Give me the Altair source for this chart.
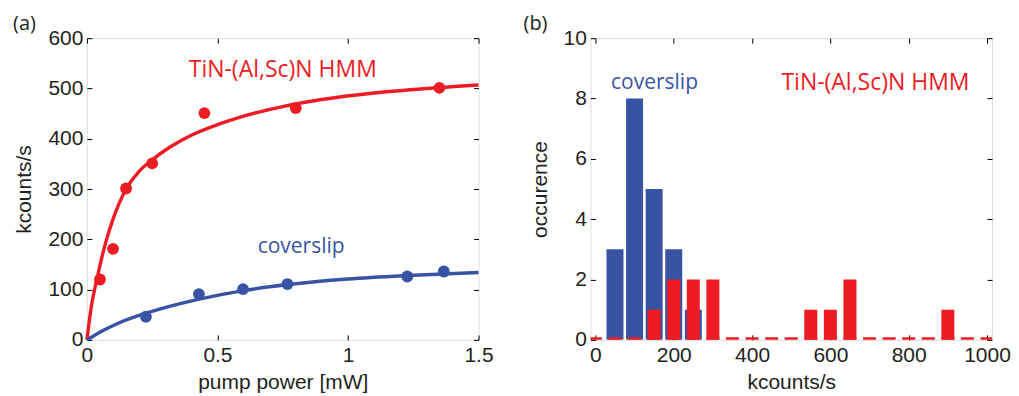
import altair as alt
import pandas as pd

# ---------------- panel (a) data ----------------
red_pts_x = [0.05, 0.10, 0.15, 0.25, 0.45, 0.80, 1.35]
red_pts_y = [120, 181, 301, 351, 451, 461, 501]
blue_pts_x = [0.226, 0.429, 0.598, 0.768, 1.227, 1.367]
blue_pts_y = [46, 91, 101, 111, 126, 136]

red_fit_x = [0, 0.015, 0.04, 0.07, 0.1, 0.15, 0.2, 0.25, 0.32, 0.4, 0.5, 0.6, 0.75, 0.9, 1.1, 1.3, 1.5]
red_fit_y = [0, 60, 125, 190, 240, 300, 335, 358, 384, 407, 428, 445, 464, 478, 491, 500, 507]
blue_fit_x = [0, 0.03, 0.06, 0.12, 0.22, 0.32, 0.43, 0.6, 0.77, 1.0, 1.23, 1.5]
blue_fit_y = [0, 9.3, 18, 33, 52, 67, 81, 98, 110, 121, 128, 134]

# ---------------- panel (b) data ----------------
bin_centers = [0, 50, 100, 150, 200, 250, 300, 350, 400, 450, 500,
               550, 600, 650, 700, 750, 800, 850, 900, 950, 1000]
red_counts = [0, 0, 0, 1, 2, 2, 2, 0, 0, 0, 0, 1, 1, 2, 0, 0, 0, 0, 1, 0, 0]
blue_centers = [50, 100, 150, 200, 250]
blue_counts = [3, 8, 5, 3, 1]

RED = "#ED1C24"
BLUE = "#3953A4"
TXT = "#231F20"
FONT = "Liberation Sans"
LFONT = "Open Sans"

red_pts = pd.DataFrame({"x": red_pts_x, "y": red_pts_y})
blue_pts = pd.DataFrame({"x": blue_pts_x, "y": blue_pts_y})
red_fit = pd.DataFrame({"x": red_fit_x, "y": red_fit_y})
blue_fit = pd.DataFrame({"x": blue_fit_x, "y": blue_fit_y})
red_hist = pd.DataFrame({"c": bin_centers, "n": red_counts})
blue_hist = pd.DataFrame({"c": blue_centers, "n": blue_counts})


def ax_main(orient, values, fmt, title, lpad, tpad):
    return alt.Axis(orient=orient, values=values, format=fmt, title=title,
                    offset=-5, tickSize=5, domain=False, grid=False,
                    tickColor="black", tickWidth=1,
                    labelFont=FONT, labelFontSize=21, labelColor=TXT,
                    labelPadding=lpad, titleFont=FONT, titleFontSize=21,
                    titleFontWeight="normal", titleColor=TXT, titlePadding=tpad,
                    labelFlush=False)


def ax_mirror(orient, values):
    return alt.Axis(orient=orient, values=values, labels=False, title=None,
                    offset=-5, tickSize=5, domain=False, grid=False,
                    tickColor="black", tickWidth=1)


def label_layer(df, xs, ys):
    return alt.Chart(df).mark_text(align="left", baseline="alphabetic", font=LFONT).encode(
        x=alt.X("x:Q", scale=xs, axis=None), y=alt.Y("y:Q", scale=ys, axis=None), text="t:N",
        size=alt.Size("s:Q", scale=None, legend=None),
        color=alt.Color("k:N", scale=alt.Scale(domain=["r", "b"], range=[RED, BLUE]), legend=None))


# ---------------- panel (a) ----------------
xa = alt.Scale(domain=[0, 1.5], nice=False)
ya = alt.Scale(domain=[0, 600], nice=False)
xa_vals = [0, 0.5, 1, 1.5]
ya_vals = [0, 100, 200, 300, 400, 500, 600]

red_line = alt.Chart(red_fit).mark_line(color=RED, strokeWidth=3.4, interpolate="monotone").encode(
    x=alt.X("x:Q", scale=xa, axis=ax_main("bottom", xa_vals, "~g", "pump power [mW]", 5, 6)),
    y=alt.Y("y:Q", scale=ya, axis=ax_main("left", ya_vals, "d", "kcounts/s", 4, 13)),
)
blue_line = alt.Chart(blue_fit).mark_line(color=BLUE, strokeWidth=3.4, interpolate="monotone").encode(
    x=alt.X("x:Q", scale=xa, axis=ax_mirror("top", xa_vals)),
    y=alt.Y("y:Q", scale=ya, axis=ax_mirror("right", ya_vals)),
)
red_dots = alt.Chart(red_pts).mark_circle(color=RED, size=140, opacity=1).encode(
    x=alt.X("x:Q", scale=xa, axis=None), y=alt.Y("y:Q", scale=ya, axis=None))
blue_dots = alt.Chart(blue_pts).mark_circle(color=BLUE, size=140, opacity=1).encode(
    x=alt.X("x:Q", scale=xa, axis=None), y=alt.Y("y:Q", scale=ya, axis=None))

lab_a = pd.DataFrame({"x": [0.39, 0.654], "y": [522, 173],
                      "t": ["TiN-(Al,Sc)N HMM", "coverslip"], "k": ["r", "b"], "s": [23, 21]})
labels_a = label_layer(lab_a, xa, ya)

panel_a = alt.Chart(pd.DataFrame({"t": ["(a)"]})).mark_text(
    align="left", baseline="alphabetic", font=LFONT, fontSize=20, color=TXT).encode(
    x=alt.value(-74), y=alt.value(-8), text="t:N")

left = alt.layer(red_line, blue_line, red_dots, blue_dots, labels_a, panel_a).resolve_axis(
    x="independent", y="independent").properties(width=392, height=302)

# ---------------- panel (b) ----------------
xb = alt.Scale(domain=[0, 1000], nice=False)
yb = alt.Scale(domain=[0, 10], nice=False)
xb_vals = [0, 200, 400, 600, 800, 1000]
yb_vals = [0, 2, 4, 6, 8, 10]

blue_bars = alt.Chart(blue_hist).mark_bar(color=BLUE, size=17, clip=True).encode(
    x=alt.X("c:Q", scale=xb, axis=ax_main("bottom", xb_vals, "d", "kcounts/s", 5, 6)),
    y=alt.Y("n:Q", scale=yb, axis=ax_main("left", yb_vals, "d", "occurence", 4, 13)),
)
red_bars = alt.Chart(red_hist).mark_bar(color=RED, size=13, clip=True).encode(
    x=alt.X("c:Q", scale=xb, axis=ax_mirror("top", xb_vals)),
    y=alt.Y("n:Q", scale=yb, axis=ax_mirror("right", yb_vals)),
)
red_zero = alt.Chart(red_hist).mark_tick(color=RED, orient="horizontal", size=13, thickness=5,
                                         clip=True, opacity=1).encode(
    x=alt.X("c:Q", scale=xb, axis=None), y=alt.Y("base:Q", scale=yb, axis=None)
).transform_calculate(base="0")

lab_b = pd.DataFrame({"x": [40, 475], "y": [8.31, 8.28],
                      "t": ["coverslip", "TiN-(Al,Sc)N HMM"], "k": ["b", "r"], "s": [21, 23]})
labels_b = label_layer(lab_b, xb, yb)

panel_b = alt.Chart(pd.DataFrame({"t": ["(b)"]})).mark_text(
    align="left", baseline="alphabetic", font=LFONT, fontSize=20, color=TXT).encode(
    x=alt.value(-67), y=alt.value(-8), text="t:N")

right = alt.layer(blue_bars, red_bars, red_zero, labels_b, panel_b).resolve_axis(
    x="independent", y="independent").properties(width=402, height=302)

chart = alt.hconcat(left, right, spacing=28).properties(
    padding={"left": 4, "top": 5, "right": 0, "bottom": 0}
).configure_view(stroke="black", strokeWidth=1.2).configure(background="white")

chart.save("out.html", embed_options={"renderer": "svg", "actions": False})
